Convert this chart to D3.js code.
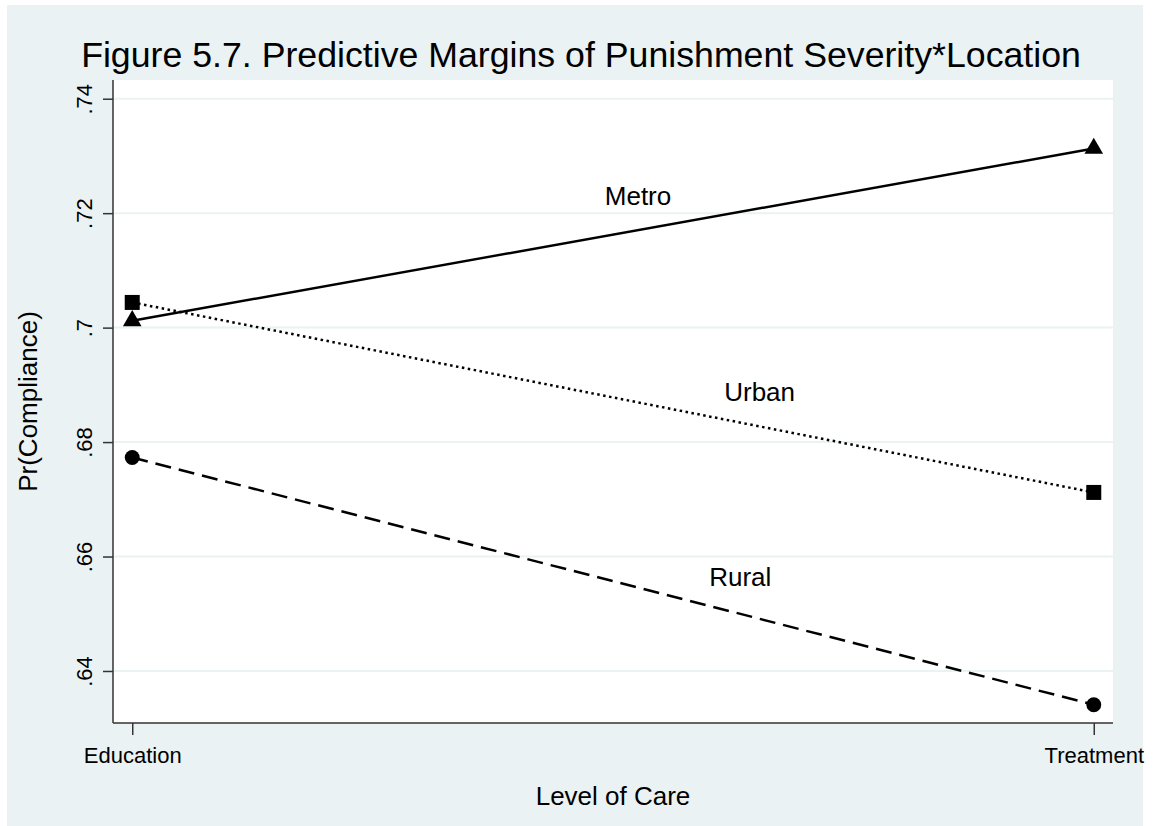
<!DOCTYPE html>
<html>
<head>
<meta charset="utf-8">
<script src="https://cdn.jsdelivr.net/npm/d3@7"></script>
<style>
  body { margin: 0; background: #fff; }
  svg { display: block; font-family: "Liberation Sans", Arial, sans-serif; }
</style>
</head>
<body>
<div id="chart"></div>
<script>
// data
const categories = ['Education', 'Treatment'];
const metro = [0.7012, 0.7313];
const urban = [0.7044, 0.6712];
const rural = [0.6773, 0.6341];
const yTicks = [0.64, 0.66, 0.68, 0.70, 0.72, 0.74];
const yTickLabels = ['.64', '.66', '.68', '.7', '.72', '.74'];
// line labels: [position along x (0 = Education, 1 = Treatment), y value]
const labelPos = {
  Metro: [0.526, 0.7214],
  Urban: [0.6525, 0.6871],
  Rural: [0.6323, 0.6548]
};

const W = 1156, H = 826;
const plot = { left: 113, right: 1113, top: 80, bottom: 723 };
const bg = '#eaf2f3';

const svg = d3.select('#chart').append('svg')
  .attr('width', W)
  .attr('height', H);

// graph region
svg.append('rect')
  .attr('x', 7).attr('y', 5)
  .attr('width', 1136).attr('height', H - 5)
  .attr('fill', bg);

// plot region
svg.append('rect')
  .attr('x', plot.left).attr('y', plot.top)
  .attr('width', plot.right - plot.left)
  .attr('height', plot.bottom - plot.top)
  .attr('fill', '#fff');

const x = d3.scalePoint()
  .domain(categories)
  .range([plot.left, plot.right])
  .padding(0.02);

// continuous version of x, for placing the text labels
const xPos = d3.scaleLinear()
  .domain([0, 1])
  .range([x(categories[0]), x(categories[1])]);

const y = d3.scaleLinear()
  .domain([0.63091, 0.74327])
  .range([plot.bottom, plot.top]);

// gridlines
svg.append('g')
  .selectAll('line')
  .data(yTicks)
  .enter()
  .append('line')
  .attr('x1', plot.left)
  .attr('x2', plot.right)
  .attr('y1', d => y(d))
  .attr('y2', d => y(d))
  .attr('stroke', bg)
  .attr('stroke-width', 2);

// y axis
const yAxis = svg.append('g')
  .attr('transform', `translate(${plot.left},0)`)
  .call(d3.axisLeft(y).tickValues(yTicks).tickSize(10).tickFormat((d, i) => yTickLabels[i]));
yAxis.select('.domain')
  .attr('d', `M0,${plot.top}V${plot.bottom}`)
  .attr('stroke', '#333')
  .attr('stroke-width', 1.5);
yAxis.selectAll('.tick line').attr('stroke', '#333').attr('stroke-width', 1.5);
yAxis.selectAll('.tick text')
  .attr('x', 0).attr('y', 0).attr('dy', null)
  .attr('transform', 'translate(-21,0) rotate(-90)')
  .attr('text-anchor', 'middle')
  .attr('font-size', '22px')
  .attr('font-family', '"Liberation Sans", Arial, sans-serif')
  .attr('fill', '#000');

// x axis
const xAxis = svg.append('g')
  .attr('transform', `translate(0,${plot.bottom})`)
  .call(d3.axisBottom(x).tickSize(12));
xAxis.select('.domain')
  .attr('d', `M${plot.left},0H${plot.right}`)
  .attr('stroke', '#333')
  .attr('stroke-width', 1.5);
xAxis.selectAll('.tick line').attr('stroke', '#333').attr('stroke-width', 1.5);
xAxis.selectAll('.tick text')
  .attr('y', 40).attr('dy', null)
  .attr('font-size', '22px')
  .attr('font-family', '"Liberation Sans", Arial, sans-serif')
  .attr('fill', '#000');

// series
const series = [
  { name: 'Metro', values: metro, dash: null, symbol: d3.symbolTriangle, size: 150 },
  { name: 'Urban', values: urban, dash: '2.5,3.5', symbol: d3.symbolSquare, size: 225 },
  { name: 'Rural', values: rural, dash: '16,8', symbol: d3.symbolCircle, size: 175 }
];

const line = d3.line()
  .x((d, i) => x(categories[i]))
  .y(d => y(d));

series.forEach(s => {
  svg.append('path')
    .datum(s.values)
    .attr('d', line)
    .attr('fill', 'none')
    .attr('stroke', '#000')
    .attr('stroke-width', 2.5)
    .attr('stroke-dasharray', s.dash);

  svg.selectAll(`.mk-${s.name}`)
    .data(s.values)
    .enter()
    .append('path')
    .attr('d', d3.symbol().type(s.symbol).size(s.size))
    .attr('transform', (d, i) => `translate(${x(categories[i])},${y(d)})`)
    .attr('fill', '#000');

  svg.append('text')
    .text(s.name)
    .attr('x', xPos(labelPos[s.name][0]))
    .attr('y', y(labelPos[s.name][1]))
    .attr('text-anchor', 'middle')
    .attr('font-size', '26px');
});

// titles
svg.append('text')
  .text('Figure 5.7. Predictive Margins of Punishment Severity*Location')
  .attr('x', 581)
  .attr('y', 67)
  .attr('text-anchor', 'middle')
  .attr('font-size', '35.7px');

svg.append('text')
  .text('Level of Care')
  .attr('x', (plot.left + plot.right) / 2)
  .attr('y', 805)
  .attr('text-anchor', 'middle')
  .attr('font-size', '26px');

svg.append('text')
  .text('Pr(Compliance)')
  .attr('transform', `translate(37,${(plot.top + plot.bottom) / 2}) rotate(-90)`)
  .attr('text-anchor', 'middle')
  .attr('font-size', '26px');
</script>
</body>
</html>
